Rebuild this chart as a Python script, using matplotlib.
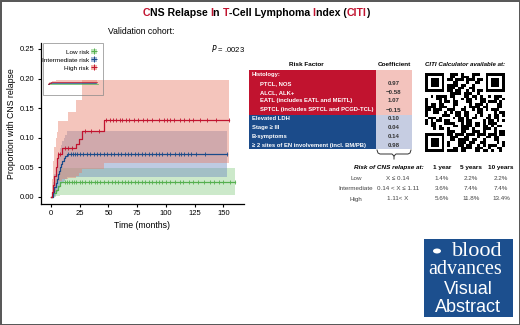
import matplotlib
matplotlib.use("Agg")
import matplotlib.pyplot as plt
import numpy as np
from matplotlib.patches import Rectangle, Patch, Circle
from matplotlib.lines import Line2D

W, H = 520, 325
RED = "#c1132f"
BLUE = "#1b4b8a"
GREEN = "#55b04f"
SANS = ["Liberation Sans", "DejaVu Sans"]
NARROW = ["Liberation Sans Narrow", "Liberation Sans", "DejaVu Sans"]
plt.rcParams["font.family"] = SANS

# cumulative incidence curves (months, proportion)
low_t = [0, 2, 4, 6, 8, 160]
low_p = [0, 0.006, 0.012, 0.018, 0.025, 0.025]
low_lo = [0, 0, 0.001, 0.002, 0.003, 0.003]
low_hi = [0, 0.02, 0.03, 0.038, 0.049, 0.049]
low_cens = [12, 14, 16, 18, 20, 22, 25, 27, 30, 33, 35, 38, 40, 43, 46, 50, 53, 56, 58,
            62, 64, 67, 70, 73, 76, 79, 82, 85, 88, 91, 94, 97, 100, 104, 108, 112, 115,
            120, 124, 128, 133, 138, 142, 146, 150, 156, 160]

int_t = [0, 2, 3, 4, 5, 6, 7, 8, 9, 10, 11, 12, 14, 153]
int_p = [0, .008, .016, .024, .031, .038, .044, .05, .055, .06, .065, .069, .073, .073]
int_lo = [0, 0, .002, .005, .008, .012, .015, .018, .021, .024, .027, .03, .034, .034]
int_hi = [0, .025, .038, .05, .06, .068, .075, .082, .088, .094, .1, .105, .111, .111]
int_cens = [15, 17, 19, 21, 23, 25, 28, 31, 34, 37, 40, 43, 46, 49, 52, 55, 58, 61, 64,
            67, 70, 73, 76, 79, 82, 85, 88, 91, 94, 97, 101, 104, 108, 111, 113, 116,
            119, 122, 126, 134, 153]

high_t = [0, 1, 2, 3, 4, 5, 6, 10, 15, 22, 24, 27, 46, 155]
high_p = [0, .008, .02, .035, .05, .065, .073, .082, .082, .09, .097, .111, .13, .13]
high_lo = [0, 0, .002, .008, .015, .022, .027, .03, .032, .036, .04, .047, .058, .058]
high_hi = [0, .03, .06, .085, .1, .11, .128, .128, .144, .164, .164, .197, .197, .197]
high_cens = [6, 8, 12, 15, 18, 30, 35, 42, 48, 51, 54, 57, 60, 62, 65, 68, 72, 76, 80,
             84, 88, 94, 98, 101, 104, 107, 112, 116, 120, 124, 130, 136, 144, 155]

groups = ["Low risk", "Intermediate risk", "High risk"]
x_ticks = [0, 25, 50, 75, 100, 125, 150]
y_ticks = [0.00, 0.05, 0.10, 0.15, 0.20, 0.25]

# risk factor table
hist_factors = ["PTCL, NOS", "ALCL, ALK+", "EATL (includes EATL and MEITL)",
                "SPTCL (includes SPTCL and PCGD-TCL)"]
hist_coefs = ["0.97", "\u22120.58", "1.07", "\u22120.15"]
other_factors = ["Elevated LDH", "Stage \u2265 III", "B-symptoms",
                 "\u2265 2 sites of EN involvement (incl. BM/PB)"]
other_coefs = ["0.10", "0.04", "0.14", "0.98"]

risk_groups = ["Low", "Intermediate", "High"]
risk_ranges = ["X \u2264 0.14", "0.14 < X \u2264 1.11", "1.11< X"]
horizons = ["1 year", "5 years", "10 years"]
risk_vals = [["1.4%", "2.2%", "2.2%"],
             ["3.6%", "7.4%", "7.4%"],
             ["5.6%", "11.8%", "13.4%"]]


def fx(x):
    return x / W


def fy(y):
    return 1 - y / H


def box(x0, y0, x1, y1):
    return [x0 / W, 1 - y1 / H, (x1 - x0) / W, (y1 - y0) / H]


def ftext(x, y, s, **kw):
    kw.setdefault("va", "center")
    kw.setdefault("ha", "center")
    return fig.text(fx(x), fy(y), s, **kw)


def frect(x0, y0, x1, y1, **kw):
    fig.patches.append(Rectangle((fx(x0), fy(y1)), (x1 - x0) / W, (y1 - y0) / H,
                                 transform=fig.transFigure, **kw))


def draw_curves(ax, lw=0.9, ms=3.2, marks=True):
    data = [(low_t, low_p, low_lo, low_hi, low_cens, GREEN, "#8fd08a"),
            (int_t, int_p, int_lo, int_hi, int_cens, BLUE, "#6f8cc0"),
            (high_t, high_p, high_lo, high_hi, high_cens, RED, "#e8806c")]
    for t, p, lo, hi, c, col, bcol in data:
        ax.fill_between(t, lo, hi, step="post", color=bcol, alpha=0.45, lw=0)
    for t, p, lo, hi, c, col, bcol in data:
        ax.step(t, p, where="post", color=col, lw=lw)
        if marks:
            idx = np.searchsorted(t, c, side="right") - 1
            ax.plot(c, np.array(p)[idx], ls="none", marker="|", ms=ms, mew=0.6, color=col)


fig = plt.figure(figsize=(W / 100, H / 100), dpi=100)

# outer frame
frect(0.5, 0.5, W - 0.5, H - 0.5, fill=False, ec="#555555", lw=1.4)

# title with red initials
title_parts = [("C", RED), ("NS Relapse ", "black"), ("I", RED), ("n ", "black"),
               ("T", RED), ("-Cell Lymphoma ", "black"), ("I", RED), ("ndex (", "black"),
               ("CITI", RED), (")", "black")]
renderer = fig.canvas.get_renderer()
full = "".join(s for s, _ in title_parts)
probe = ftext(0, 13, full, fontsize=7.6, fontweight="bold")
total = probe.get_window_extent(renderer).width
probe.remove()
x0 = 256 - total / 2
prefix = ""
for s, c in title_parts:
    if prefix:
        pt = ftext(0, 13, prefix + "|", fontsize=7.6, fontweight="bold")
        bar = ftext(0, 13, "|", fontsize=7.6, fontweight="bold")
        off = pt.get_window_extent(renderer).width - bar.get_window_extent(renderer).width
        pt.remove()
        bar.remove()
    else:
        off = 0
    ftext(x0 + off, 13, s, fontsize=7.6, fontweight="bold", color=c, ha="left")
    prefix += s

ftext(108, 31, "Validation cohort:", fontsize=6.2, ha="left")

# main plot
ax = fig.add_axes(box(41, 43, 244, 204))
draw_curves(ax)
ax.set_xlim(-8.7, 168)
ax.set_ylim(-0.012, 0.26)
ax.set_xticks(x_ticks)
ax.set_yticks(y_ticks)
ax.set_yticklabels([f"{v:.2f}" for v in y_ticks])
for s in ["top", "right"]:
    ax.spines[s].set_visible(False)
for s in ["left", "bottom"]:
    ax.spines[s].set_linewidth(0.9)
ax.tick_params(labelsize=5.5, length=2.5, width=0.8, pad=2)
for lab in ax.get_xticklabels() + ax.get_yticklabels():
    lab.set_family(NARROW)
ax.set_xlabel("Time (months)", fontsize=6.3, family=NARROW, labelpad=3)
ax.set_ylabel("Proportion with CNS relapse", fontsize=6.3, family=NARROW, labelpad=3)
ax.text(1.005, (0.25 - ax.get_ylim()[0]) / (ax.get_ylim()[1] - ax.get_ylim()[0]),
        r"$\it{P}$ = .0023", transform=ax.transAxes, ha="right", va="center", fontsize=5.5)

# legend box with miniature inset
ax.add_patch(Rectangle((0.01, 0.677), 0.295, 0.323, transform=ax.transAxes,
                       fill=False, ec="#888888", lw=0.5, zorder=5))
handles = []
for col, bcol in [(GREEN, "#8fd08a"), (BLUE, "#6f8cc0"), (RED, "#e8806c")]:
    handles.append((Patch(fc=bcol, alpha=0.6, ec="none"),
                    Line2D([], [], ls="none", marker="+", ms=4, mew=0.7, color=col)))
ax.legend(handles, groups, loc="upper right", bbox_to_anchor=(0.305, 1.0),
          frameon=False, fontsize=4.6, markerfirst=False, handlelength=0.9,
          handleheight=0.9, handletextpad=0.4, labelspacing=0.35, borderpad=0.4)
mini = fig.add_axes(box(46, 80, 100, 93))
draw_curves(mini, lw=0.5, marks=False)
mini.set_xlim(-5, 165)
mini.set_ylim(-0.5, 0.22)
mini.axis("off")

# risk factor table
ftext(306, 64, "Risk Factor", fontsize=4.6, fontweight="bold")
ftext(394, 64, "Coefficient", fontsize=4.6, fontweight="bold")
frect(249, 70, 376, 114.5, fc=RED, ec="none")
frect(376, 70, 412, 114.5, fc="#f3c3bd", ec="none")
frect(249, 114.5, 376, 149, fc=BLUE, ec="none")
frect(376, 114.5, 412, 149, fc="#c6cde2", ec="none")
ftext(252, 74.3, "Histology:", fontsize=4.2, fontweight="bold", color="white", ha="left")
hist_y = [83.3, 92.3, 101, 110]
other_y = [119, 127.7, 136.7, 145.3]
for y, f, c in zip(hist_y, hist_factors, hist_coefs):
    ftext(260, y, f, fontsize=4.2, fontweight="bold", color="white", ha="left")
    ftext(394, y, c, fontsize=4.4, fontweight="bold", color="#333333")
for y, f, c in zip(other_y, other_factors, other_coefs):
    ftext(252, y, f, fontsize=4.2, fontweight="bold", color="white", ha="left")
    ftext(394, y, c, fontsize=4.4, fontweight="bold", color="#333333")

# brace under coefficient column
bx = [377, 378, 380, 392, 394, 394]
by = [150, 153, 154, 154, 156, 159]
fig.add_artist(Line2D([fx(v) for v in bx], [fy(v) for v in by], color="#333333", lw=0.7))
bx2 = [411, 410, 408, 396, 394]
by2 = [150, 153, 154, 154, 156]
fig.add_artist(Line2D([fx(v) for v in bx2], [fy(v) for v in by2], color="#333333", lw=0.7))

# risk of relapse table
ftext(424, 167, "Risk of CNS relapse at:", fontsize=4.6, fontweight="bold",
      style="italic", ha="right")
col_x = [442, 471, 501]
for x, h in zip(col_x, horizons):
    ftext(x, 167, h, fontsize=4.6, fontweight="bold")
row_y = [179, 189, 199]
for y, g, r, vals in zip(row_y, risk_groups, risk_ranges, risk_vals):
    ftext(356, y, g, fontsize=4.5, color="#444444")
    ftext(398, y, r, fontsize=4.5, color="#444444")
    for x, v in zip(col_x, vals):
        ftext(x, y, v, fontsize=4.5, color="#444444")

# calculator QR block
ftext(465, 64, "CITI Calculator available at:", fontsize=4.4, fontweight="bold",
      style="italic")
url = "https://www.bloodadvances.org/citi-calculator/cns-relapse-t-cell-lymphoma"
bits = np.unpackbits(np.frombuffer((url * 4).encode(), dtype=np.uint8))
n = 29
qr = bits[: n * n].reshape(n, n).astype(float)
for r0, c0 in [(0, 0), (0, n - 7), (n - 7, 0)]:
    qr[max(r0 - 1, 0):r0 + 8, max(c0 - 1, 0):c0 + 8] = 0
    qr[r0:r0 + 7, c0:c0 + 7] = 1
    qr[r0 + 1:r0 + 6, c0 + 1:c0 + 6] = 0
    qr[r0 + 2:r0 + 5, c0 + 2:c0 + 5] = 1
qax = fig.add_axes(box(425, 73, 505, 152))
qax.imshow(qr, cmap="Greys", interpolation="nearest", vmin=0, vmax=1, aspect="auto")
qax.axis("off")

# journal badge
frect(424, 239, 513, 317, fc="#1c4f8e", ec="none")
fig.patches.append(Circle((fx(437), fy(251)), 4.0 / W, transform=fig.transFigure,
                          fc="white", ec="none"))
ftext(502, 251, "blood", fontsize=16, color="white", family="Liberation Serif", ha="right")
ftext(502, 270, "advances", fontsize=14.5, color="white", family="Liberation Serif",
      ha="right")
ftext(468, 290, "Visual", fontsize=13, color="white")
ftext(468, 308, "Abstract", fontsize=13, color="white")

fig.savefig("out.png", dpi=100)
